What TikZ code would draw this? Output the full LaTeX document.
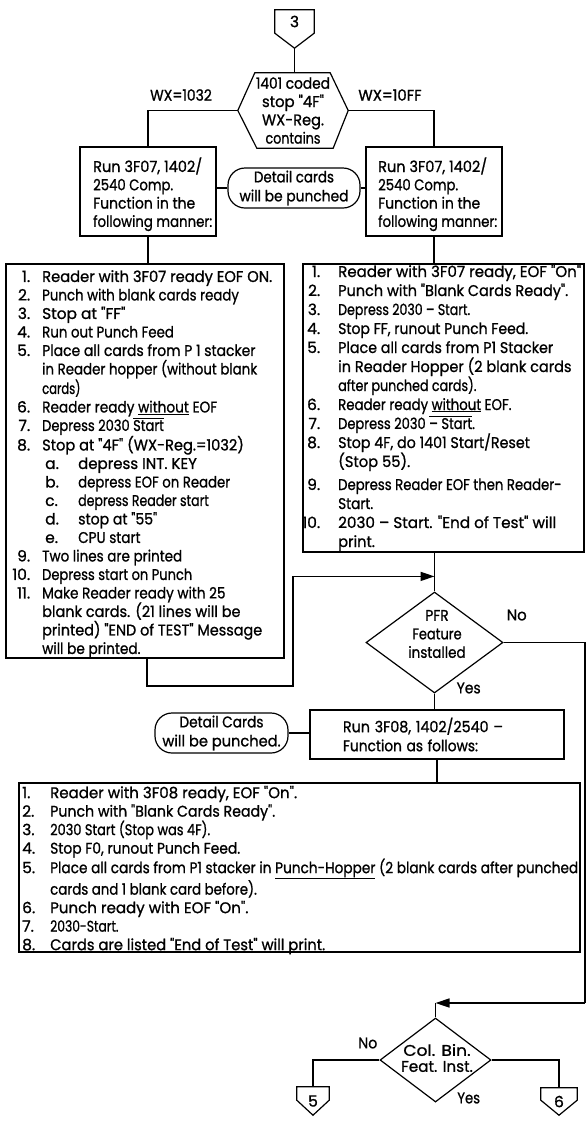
\documentclass[tikz,border=0pt]{standalone}
\usepackage{fontspec}
\usepackage{graphicx}
\usetikzlibrary{arrows.meta,shapes.geometric}
\newfontfamily\fut[FakeBold=1.0]{Poppins}
\newlength\fsz
\newsavebox\measbox
\AtBeginDocument{%
 \sbox\measbox{\fut\fontsize{10pt}{12pt}\selectfont H}%
 \setlength\fsz{\fpeval{round(108/(\the\ht\measbox),3)}pt}}
\newcommand\F[1]{\fut\fontsize{\the\fsz}{#1pt}\selectfont}
\newcommand\fw[2]{\resizebox{#1pt}{\height}{#2}}
\newcommand\litem[3]{\makebox[26pt][r]{#1}\hspace{12pt}\fw{#2}{#3}}
\newcommand\lsub[3]{\hspace*{41pt}\makebox[33pt][l]{#1}\fw{#2}{#3}}
\newcommand\lcont[2]{\hspace*{38pt}\fw{#1}{#2}}
\newcommand\ritem[3]{\makebox[20pt][r]{#1}\hspace{18pt}\fw{#2}{#3}}
\newcommand\rcont[2]{\hspace*{38pt}\fw{#1}{#2}}
\newcommand\bitem[3]{\makebox[28pt][l]{#1}\fw{#2}{#3}}
\newcommand\bcont[2]{\hspace*{28pt}\fw{#1}{#2}}
\newcommand\ovl[1]{$\overline{\mbox{#1}}$}
\begin{document}
\begin{tikzpicture}[x=1pt,y=-1pt,
  ln/.style={line width=1.6pt},
  bx/.style={draw, line width=1.2pt, inner sep=0pt},
  tx/.style={inner sep=0pt, anchor=north west, align=left},
  ff/.style={font=\F{#1}},
  arr/.style={-{Triangle[length=14pt,width=9pt]}},
  term/.style={draw, line width=1.2pt, rounded corners=17pt, inner sep=0pt, align=center},
  dia/.style={draw, diamond, line width=1.2pt, inner sep=0pt},
  conn/.style={inner sep=0pt}
]
\useasboundingbox (0,0) rectangle (586,1125);
\fill[white] (0,0) rectangle (586,1125);

% off-page connector 3
\node[conn, minimum width=39pt, minimum height=23pt, ff=14] (c3) at (294.5,21.5) {3};
\draw[line width=1.2pt] (c3.north west) -- (c3.north east) -- (c3.south east) -- ([yshift=-15pt]c3.south) coordinate (c3tip) -- (c3.south west) -- cycle;

% decision hexagon
\node[inner sep=0pt, minimum width=110pt, minimum height=75pt, align=center, ff=18.3] (hex) at (293,110.5) {\fw{74}{1401 coded}\\\fw{62}{stop "4F"}\\\fw{62}{WX-Reg.}\\\fw{55}{contains}};
\draw[line width=1.2pt] ([xshift=17pt]hex.north west) -- ([xshift=-18pt]hex.north east) -- (hex.east) -- ([xshift=-15pt]hex.south east) -- ([xshift=19pt]hex.south west) -- (hex.west) -- cycle;
\draw[ln] (c3tip) -- (c3tip |- hex.north);

\node[ff=14] (wx1) at (181,95) {\fw{61.7}{WX=1032}};
\node[ff=14] (wx2) at (390,95) {\fw{63.3}{WX=10FF}};

% top boxes
\node[bx, minimum width=136pt, minimum height=89pt] (lbox) at (148,191.5) {};
\node[tx, ff=18.3] (lboxt) at (93,157.2) {\strut\fw{109}{Run 3F07, 1402/}\\\fw{80}{2540 Comp.}\\\fw{102}{Function in the}\\\fw{119}{following manner:}};
\node[bx, minimum width=136pt, minimum height=89pt] (rbox) at (434,191.5) {};
\node[tx, ff=18.3] (rboxt) at (378,157.2) {\strut\fw{109}{Run 3F07, 1402/}\\\fw{80}{2540 Comp.}\\\fw{102}{Function in the}\\\fw{119}{following manner:}};
\draw[ln] (hex.west) -| (lbox.north);
\draw[ln] (hex.east) -| (rbox.north);

\node[term, minimum width=132pt, minimum height=40pt, ff=19] (det1) at (294,188) {\fw{80}{Detail cards}\\\fw{109}{will be punched}};
\draw[ln] (det1.west) -- (det1.west -| lbox.east);
\draw[ln] (det1.east) -- (det1.east -| rbox.west);

% left list
\node[bx, minimum width=278pt, minimum height=394pt] (llist) at (145,461) {};
\node[tx, ff=18.5] (llistt) at (4,268.8) {\strut\litem{1.}{230}{Reader with 3F07 ready EOF ON.}\\
\litem{2.}{196.7}{Punch with blank cards ready}\\
\litem{3.}{83.3}{Stop at "FF"}\\
\litem{4.}{131.7}{Run out Punch Feed}\\
\litem{5.}{213.3}{Place all cards from P 1 stacker}\\
\lcont{215}{in Reader hopper (without blank}\\
\lcont{38.3}{cards)}\\
\litem{6.}{175}{Reader ready \underline{without} EOF}\\
\litem{7.}{121.7}{Depress 2030 \ovl{Start}}\\
\litem{8.}{201.7}{Stop at "4F" (WX-Reg.=1032)}\\
\lsub{a.}{118.7}{depress INT. KEY}\\
\lsub{b.}{152}{depress EOF on Reader}\\
\lsub{c.}{130.7}{depress Reader start}\\
\lsub{d.}{79}{stop at "55"}\\
\lsub{e.}{62.3}{CPU start}\\
\litem{9.}{140}{Two lines are printed}\\
\litem{10.}{150}{Depress start on Punch}\\
\litem{11.}{183.3}{Make Reader ready with 25}\\
\lcont{198.3}{blank cards. (21 lines will be}\\
\lcont{220}{printed) "END of TEST" Message}\\
\lcont{98.3}{will be printed.}};
\draw[ln] (lbox.south) -- (lbox.south |- llist.north);

% right list
\node[bx, minimum width=281pt, minimum height=288pt] (rlist) at (443.5,408) {};
\node[tx, ff=19] (rlistt) at (300,263.5) {\strut\ritem{1.}{243}{Reader with 3F07 ready, EOF "On"}\\
\ritem{2.}{230}{Punch with "Blank Cards Ready".}\\
\ritem{3.}{132}{Depress 2030 \textendash\ Start.}\\
\ritem{4.}{190}{Stop FF, runout Punch Feed.}\\
\ritem{5.}{215}{Place all cards from P1 Stacker}\\
\rcont{233.3}{in Reader Hopper (2 blank cards}\\
\rcont{138.3}{after punched cards).}\\
\ritem{6.}{173.3}{Reader ready \underline{without} EOF.}\\
\ritem{7.}{136.7}{Depress 2030 \ovl{\textendash\ Start}.}\\
\ritem{8.}{191.7}{Stop 4F, do 1401 Start/Reset}\\
\rcont{72}{(Stop 55).}\\[4pt]
\ritem{9.}{223.3}{Depress Reader EOF then Reader-}\\
\rcont{35}{Start.}\\
\ritem{10.}{218}{2030 \textendash\ Start. "End of Test" will}\\
\rcont{36.7}{print.}};
\draw[ln] (rbox.south) -- (rbox.south |- rlist.north);

% PFR decision
\node[dia, minimum width=137pt, minimum height=101pt] (pfr) at (434.5,642.5) {};
\node[align=center, inner sep=0pt, ff=18.5] (pfrt) at (437,634) {\fw{23.3}{PFR}\\\fw{49.3}{Feature}\\\fw{57.3}{installed}};
\node[ff=14] (pfrno) at (516.7,615) {\fw{20}{No}};
\node[ff=14] (pfryes) at (468.7,688) {\fw{24}{Yes}};
\draw[ln] (pfr.north |- rlist.south) -- (pfr.north);
\path (pfr.north) ++(0,-15) coordinate (ain);
\coordinate (lk) at (293,686);
\draw[ln,arr] ([xshift=2pt]llist.south) |- (lk) |- (ain);

% run 3F08
\node[bx, minimum width=254pt, minimum height=49pt, text width=188pt, inner xsep=33pt, align=left, ff=19] (run) at (437,734.5) {\fw{160}{Run 3F08, 1402/2540 \textendash}\\\fw{135}{Function as follows:}};
\node[term, minimum width=133pt, minimum height=40pt, ff=19] (det2) at (221.5,733) {\fw{84}{Detail Cards}\\\fw{118.3}{will be punched.}};
\draw[ln] (det2.east) -- (det2.east -| run.west);
\draw[ln] (pfr.south) -- (pfr.south |- run.north);

% bottom list
\node[bx, minimum width=561pt, minimum height=169pt] (blist) at (299.5,867.5) {};
\node[tx, ff=18.5] (blistt) at (22,785) {\strut\bitem{1.}{247}{Reader with 3F08 ready, EOF "On".}\\
\bitem{2.}{225}{Punch with "Blank Cards Ready".}\\
\bitem{3.}{160}{2030 Start (Stop was 4F).}\\
\bitem{4.}{190}{Stop F0, runout Punch Feed.}\\
\bitem{5.}{528}{Place all cards from P1 stacker in \underline{Punch-Hopper} (2 blank cards after punched}\\
\bcont{206.7}{cards and 1 blank card before).}\\
\bitem{6.}{198.3}{Punch ready with EOF "On".}\\
\bitem{7.}{68.3}{2030-Start.}\\
\bitem{8.}{275}{Cards are listed "End of Test" will print.}};
\draw[ln] (run.south) -- (run.south |- blist.north);

% Col. Bin. decision
\node[dia, minimum width=111pt, minimum height=84pt] (cb) at (435.5,1060) {};
\node[align=center, inner sep=0pt, ff=16] (cbt) at (437,1058) {\fw{67.3}{Col. Bin.}\\\fw{71.7}{Feat. Inst.}};
\node[ff=14] (cbno) at (367.8,1043) {\fw{19}{No}};
\node[ff=14] (cbyes) at (468.7,1098) {\fw{22.7}{Yes}};
\coordinate (rk) at (585,1003);
\draw[ln] (pfr.east) -| (rk);
\draw[ln,arr] (rk) -- (cb.north |- rk);
\draw[ln] (cb.north |- rk) -- (cb.north);

% off-page connectors 5 and 6
\node[conn, minimum width=32pt, minimum height=28pt, ff=14] (c5) at (313,1101) {5};
\draw[line width=1.2pt] (c5.north west) -- (c5.north east) -- ([yshift=15pt]c5.south east) -- (c5.south) -- ([yshift=15pt]c5.south west) -- cycle;
\node[conn, minimum width=36pt, minimum height=27pt, ff=14] (c6) at (559,1101.5) {6};
\draw[line width=1.2pt] (c6.north west) -- (c6.north east) -- ([yshift=15pt]c6.south east) -- (c6.south) -- ([yshift=15pt]c6.south west) -- cycle;
\draw[ln] (cb.west) -| (c5.north);
\draw[ln] (cb.east) -| (c6.north);
\end{tikzpicture}
\end{document}
